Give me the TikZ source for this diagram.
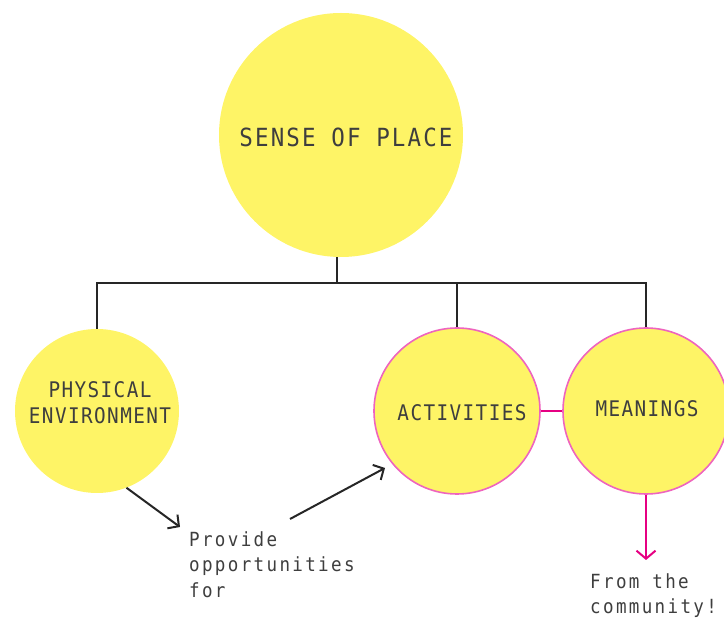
\documentclass[tikz,border=0pt]{standalone}
\usepackage{fontspec}
\usetikzlibrary{arrows.meta}
\newfontfamily\monoA[FakeStretch=0.9,LetterSpace=12]{DejaVu Sans Mono}
\newfontfamily\monoB[FakeStretch=0.9,LetterSpace=6.5]{DejaVu Sans Mono}
\newfontfamily\monoC[FakeStretch=0.9,LetterSpace=8.5]{DejaVu Sans Mono}
\definecolor{sunny}{RGB}{254,244,102}
\definecolor{rimpink}{RGB}{238,100,190}
\definecolor{linkpink}{RGB}{230,0,130}
\definecolor{ink}{RGB}{62,62,62}
\begin{document}
\begin{tikzpicture}[x=1pt,y=-1pt,
  bubble/.style={circle,fill=sunny,inner sep=0pt},
  rim/.style={draw=rimpink,line width=1.6pt},
  tree/.style={draw=black!85,line width=2pt},
  ctext/.style={text=ink,font=\monoB\fontsize{21.5}{26}\selectfont,align=center,inner sep=0pt},
  note/.style={text=ink,font=\monoA\fontsize{19.5}{25.5}\selectfont,align=left,inner sep=0pt,anchor=north west},
  blackarrow/.style={draw=black!85,line width=2pt,-{Straight Barb[length=8pt,width=17pt]}},
  pinkarrow/.style={draw=linkpink,line width=2pt,-{Straight Barb[length=8pt,width=19pt]}}
]
\useasboundingbox (0,0) rectangle (724,620);

% circles
\node[bubble,minimum size=244pt] (big) at (341,135) {};
\node[bubble,minimum size=164pt] (phys) at (97,411) {};
\node[bubble,rim,minimum size=166pt] (act) at (457,411) {};
\node[bubble,rim,minimum size=166pt] (mean) at (646,411) {};

% labels
\node[ctext,font=\monoC\fontsize{25}{28}\selectfont] (bigtxt) at (346,137) {SENSE OF PLACE};
\node[ctext] (phystxt) at (100,403) {PHYSICAL\\ENVIRONMENT};
\node[ctext] (acttxt) at (462,413) {ACTIVITIES};
\node[ctext] (meantxt) at (647,409) {MEANINGS};

% tree connectors
\coordinate (hub) at (337,283);
\draw[tree] (hub |- big.south) -- (hub);
\draw[tree] (phys.north) -- (phys.north |- hub) -- (mean.north |- hub) -- (mean.north);
\draw[tree] (act.north) -- (act.north |- hub);

% pink link
\draw[draw=linkpink,line width=2pt] (act.east) -- (mean.west);

% notes
\node[note] (provide) at (189,531) {Provide\\opportunities\\for};
\node[note] (community) at (590,573) {From the\\community!};

% arrows
\coordinate (p1) at (180,527);
\coordinate (q0) at (290,519);
\coordinate (q1) at (385,468);
\coordinate (m1) at (646,560);
\draw[blackarrow] (phys.-69) -- (p1);
\draw[blackarrow] (q0) -- (q1);
\draw[pinkarrow] (mean.south) -- (m1);
\end{tikzpicture}
\end{document}
